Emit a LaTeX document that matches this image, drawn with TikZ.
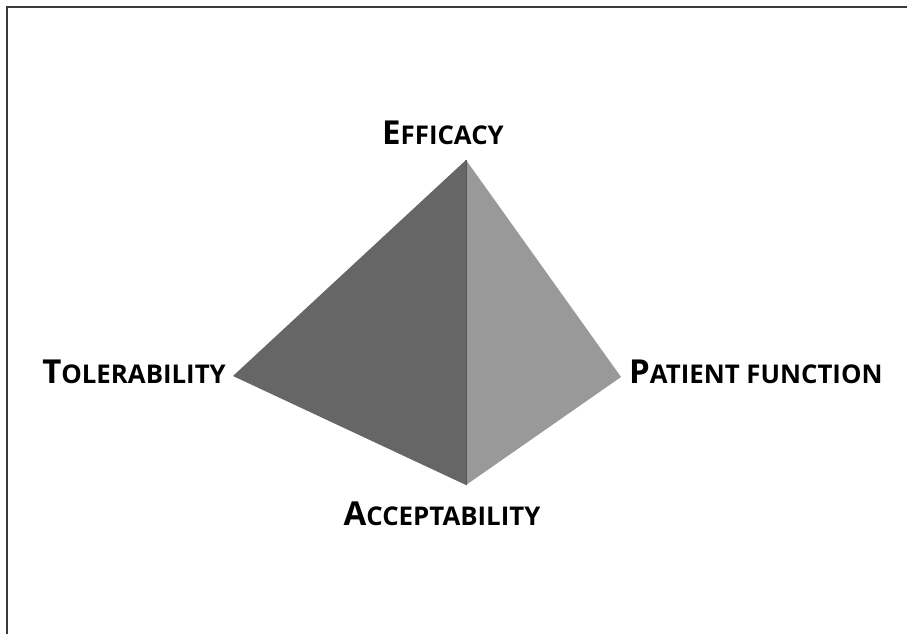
\documentclass[tikz,border=0pt]{standalone}
\usepackage{fontspec}
\setmainfont{Open Sans}
% faked small capitals: a full capital followed by reduced capitals
\newcommand\capsize{\fontsize{33}{33}\selectfont}
\newcommand\smcsize{\fontsize{25.8}{25.8}\selectfont}
\newcommand\smc[2]{{\capsize #1}{\smcsize #2}}
\definecolor{faceleft}{HTML}{666666}
\definecolor{faceright}{HTML}{999999}
\definecolor{frameline}{HTML}{3A3A3A}
\begin{document}
\begin{tikzpicture}[x=1pt,y=-1pt,
  vlabel/.style={inner sep=0pt, font=\bfseries, text=black}]
\useasboundingbox (0,0) rectangle (907,634);
% frame along the top and left edges
\draw[frameline, line width=1.8pt] (7,634) -- (7,7) -- (907,7);
% vertices of the pyramid
\coordinate (top) at (466,160);
\coordinate (left) at (233,376);
\coordinate (right) at (621,377);
\coordinate (bottom) at (466,485);
% two faces
\fill[faceleft] (top) -- (left) -- (bottom) -- cycle;
\fill[faceright] (top) -- (right) -- (bottom) -- cycle;
\draw[faceleft!85!black, line width=0.8pt] (top) -- (bottom);
% labels at the corners
\node[vlabel, anchor=base] (eff) at (443,144) {\smc{E}{FFICACY}};
\node[vlabel, anchor=base east] (tol) at (226,383) {\smc{T}{OLERABILITY}};
\node[vlabel, anchor=base west] (pat) at (629,383) {\smc{P}{ATIENT FUNCTION}};
\node[vlabel, anchor=base] (acc) at (442,525) {\smc{A}{CCEPTABILITY}};
\end{tikzpicture}
\end{document}
